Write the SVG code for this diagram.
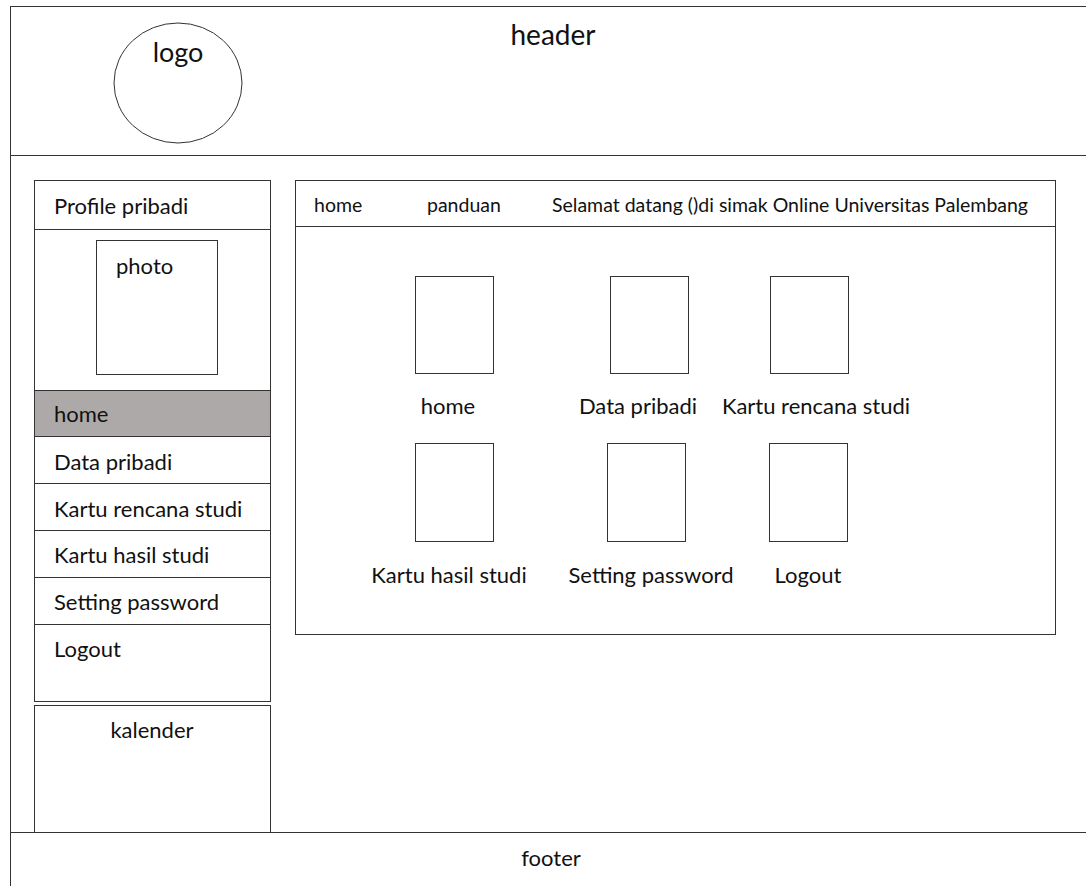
<svg xmlns="http://www.w3.org/2000/svg" width="1086" height="886" viewBox="0 0 1086 886">
<style>
.b{fill:#fff;stroke:#333;stroke-width:1}
.t{font-family:Lato,"Liberation Sans",sans-serif;font-size:22px;fill:#111}
.n{font-family:Lato,"Liberation Sans",sans-serif;font-size:19.5px;fill:#111}
.m{text-anchor:middle}
</style>
<rect width="1086" height="886" fill="#fff"/>
<g id="header">
<rect class="b" x="10.5" y="6.5" width="1090" height="149"/>
<ellipse id="logo" class="b" cx="178" cy="83" rx="64" ry="60"/>
<text class="t m" x="178" y="62" style="font-size:27px">logo</text>
<text class="t m" x="553" y="45" style="font-size:28px">header</text>
</g>
<g id="body">
<rect class="b" x="10.5" y="155.5" width="1090" height="677"/>
</g>
<g id="profile">
<rect class="b" x="34.5" y="180.5" width="236" height="521"/>
<line class="b" x1="34.5" y1="229.5" x2="270.5" y2="229.5"/>
<text class="t" x="54" y="214">Profile pribadi</text>
<rect class="b" x="96.5" y="240.5" width="121" height="134"/>
<text class="t" x="116" y="274">photo</text>
<rect x="34.5" y="390.5" width="236" height="46" fill="#ADA9A8" stroke="#333"/>
<text class="t" x="54" y="422">home</text>
<line class="b" x1="34.5" y1="483.5" x2="270.5" y2="483.5"/>
<line class="b" x1="34.5" y1="530.5" x2="270.5" y2="530.5"/>
<line class="b" x1="34.5" y1="577.5" x2="270.5" y2="577.5"/>
<line class="b" x1="34.5" y1="624.5" x2="270.5" y2="624.5"/>
<text class="t" x="54" y="470">Data pribadi</text>
<text class="t" x="54" y="517">Kartu rencana studi</text>
<text class="t" x="54" y="563">Kartu hasil studi</text>
<text class="t" x="54" y="610">Setting password</text>
<text class="t" x="54" y="657">Logout</text>
</g>
<g id="kalender">
<rect class="b" x="34.5" y="705.5" width="236" height="127"/>
<text class="t m" x="152" y="738">kalender</text>
</g>
<g id="content">
<rect class="b" x="295.5" y="180.5" width="760" height="454"/>
<line class="b" x1="295.5" y1="226.5" x2="1055.5" y2="226.5"/>
<text class="n" x="314" y="212">home</text>
<text class="n" x="427" y="212">panduan</text>
<text class="n" x="552" y="212">Selamat datang ()di simak Online Universitas Palembang</text>
<rect class="b" x="415.5" y="276.5" width="78" height="97"/>
<rect class="b" x="610.5" y="276.5" width="78" height="97"/>
<rect class="b" x="770.5" y="276.5" width="78" height="97"/>
<text class="t m" x="448" y="414">home</text>
<text class="t m" x="638" y="414">Data pribadi</text>
<text class="t m" x="816" y="414">Kartu rencana studi</text>
<rect class="b" x="415.5" y="443.5" width="78" height="98"/>
<rect class="b" x="607.5" y="443.5" width="78" height="98"/>
<rect class="b" x="769.5" y="443.5" width="78" height="98"/>
<text class="t m" x="449" y="583">Kartu hasil studi</text>
<text class="t m" x="651" y="583">Setting password</text>
<text class="t m" x="808" y="583">Logout</text>
</g>
<g id="footer">
<rect class="b" x="10.5" y="832.5" width="1090" height="60"/>
<text class="t m" x="551" y="866">footer</text>
</g>
<g id="connectors"/>
</svg>
